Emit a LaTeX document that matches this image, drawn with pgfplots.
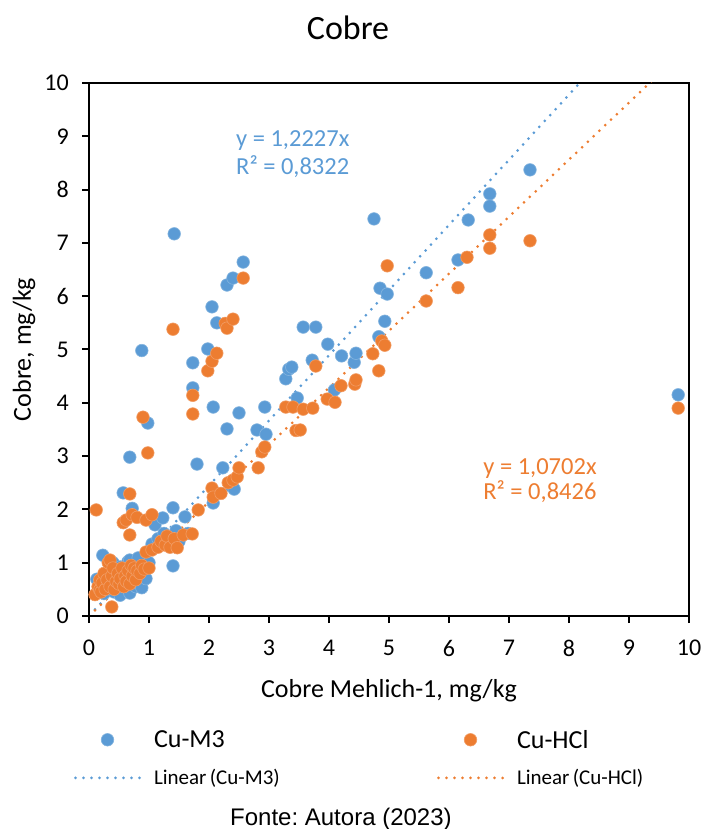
\documentclass[border=0pt]{standalone}
\usepackage{fontspec}
\setmainfont{Carlito}
\newfontfamily\arialf{Liberation Sans}
\usepackage{pgfplots}
\pgfplotsset{compat=1.18}
\definecolor{cublue}{HTML}{5B9BD5}
\definecolor{cuorange}{HTML}{ED7D31}
\pgfplotsset{
  mylegmark/.style={legend image code/.code={\draw[mark repeat=2,mark phase=2,##1] plot coordinates {(0pt,0pt)(32pt,0pt)(64pt,0pt)};}},
  mylegline/.style={legend image code/.code={\draw[##1] (0pt,0pt) -- (64pt,0pt);}},
}
\frenchspacing
\begin{document}
\begin{tikzpicture}
\useasboundingbox (-89pt,-213pt) rectangle (614pt,616pt);
\begin{axis}[
  at={(0pt,0pt)}, anchor=south west, scale only axis,
  width=600pt, height=533pt,
  xmin=0, xmax=10, ymin=0, ymax=10,
  xtick={0,1,...,10}, ytick={0,1,...,10},
  tick align=outside, tick pos=left,
  major tick length=7pt,
  every tick/.style={black, line width=2pt},
  axis line style={line width=2pt, black},
  /pgf/number format/assume math mode=true,
  tick label style={font=\fontsize{24}{28}\selectfont},
  xticklabel style={inner sep=0pt, anchor=north, yshift=-17pt},
  yticklabel style={inner sep=0pt, anchor=east, xshift=-13pt},
  xlabel={Cobre Mehlich-1, mg/kg},
  ylabel={Cobre, mg/kg},
  label style={font=\fontsize{26}{30}\selectfont, inner sep=0pt},
  x label style={at={(axis description cs:0.5,-0.152)}, anchor=base},
  y label style={at={(axis description cs:-0.0967,0.5)}, anchor=base},
  legend columns=2,
  legend cell align=left,
  legend style={at={(axis description cs:-0.025,-0.2139)}, anchor=north west,
    draw=none, fill=none, inner sep=0pt, outer sep=0pt,
    nodes={inner sep=0pt, text width=283pt, align=left},
    /tikz/every odd column/.append style={column sep=13pt},
    /tikz/every even column/.append style={column sep=0pt},
    row sep=20pt},
]
\addplot[only marks, mark=*, mark size=6.3pt,
  mark options={fill=cublue, draw=cublue!75!white, line width=0.6pt}, mylegmark]
coordinates {
(0.13,0.69)(0.23,1.14)(0.18,0.50)(0.25,0.42)(0.28,0.62)(0.30,0.80)(0.33,0.55)(0.35,0.95)(0.38,0.72)(0.40,1.00)
(0.42,0.45)(0.45,0.62)(0.48,0.85)(0.52,0.39)(0.52,0.92)(0.55,0.70)(0.58,0.55)(0.62,0.80)(0.65,1.02)(0.68,0.43)
(0.68,1.05)(0.70,0.65)(0.75,0.90)(0.78,0.55)(0.82,1.09)(0.85,0.75)(0.88,0.53)(0.92,0.95)(0.95,0.70)(1.00,1.00)
(1.05,1.35)(1.10,1.71)(1.15,1.45)(1.23,1.84)(1.25,1.55)(1.30,1.40)(1.35,1.30)(1.40,0.94)(1.40,2.03)(1.45,1.60)
(1.50,1.40)(1.60,1.86)(1.65,1.55)
(0.57,2.31)(0.68,2.98)(0.72,2.02)(0.88,4.98)(0.98,3.62)(1.42,7.17)(1.73,4.75)(1.73,4.28)(1.80,2.85)(1.98,5.01)
(2.05,5.80)(2.07,3.92)(2.07,2.12)(2.13,5.50)(2.15,2.30)(2.23,2.78)(2.30,3.51)(2.30,6.21)(2.35,2.45)(2.40,6.34)
(2.42,2.38)(2.50,3.81)(2.57,6.64)(2.80,3.49)(2.93,3.92)(2.95,3.41)(3.28,4.45)(3.33,4.63)(3.38,4.67)(3.47,4.09)
(3.57,5.42)(3.72,4.80)(3.78,5.42)(3.98,5.10)(4.09,4.24)(4.21,4.88)(4.42,4.76)(4.45,4.93)(4.75,7.45)(4.83,5.24)
(4.85,6.15)(4.93,5.53)(4.97,6.04)(5.62,6.44)(6.15,6.68)(6.32,7.43)(6.68,7.92)(6.68,7.69)(7.35,8.37)(9.82,4.15)
};
\addlegendentry{\fontsize{26}{30}\selectfont Cu-M3}
\addplot[only marks, mark=*, mark size=6.3pt,
  mark options={fill=cuorange, draw=cuorange!75!white, line width=0.6pt}, mylegmark]
coordinates {
(0.10,0.40)(0.12,1.99)(0.15,0.55)(0.18,0.68)(0.18,0.49)(0.20,0.45)(0.22,0.62)(0.25,0.80)(0.27,0.50)(0.30,0.68)
(0.32,1.00)(0.35,1.05)(0.35,0.55)(0.38,0.17)(0.38,0.75)(0.40,0.90)(0.42,0.50)(0.45,0.65)(0.48,0.80)(0.50,0.60)
(0.52,0.70)(0.55,0.90)(0.58,0.55)(0.60,0.75)(0.62,0.65)(0.65,0.85)(0.68,0.60)(0.70,0.95)(0.72,0.75)(0.75,0.90)
(0.78,0.68)(0.80,0.85)(0.85,0.80)(0.88,0.95)(0.92,0.88)(0.95,1.20)(1.00,0.90)
(0.57,1.75)(0.62,1.80)(0.68,1.52)(0.68,2.29)(0.72,1.90)(0.80,1.85)(0.90,3.73)(0.95,1.80)(0.98,3.06)(1.05,1.90)
(1.05,1.24)(1.15,1.29)(1.20,1.40)(1.27,1.33)(1.30,1.50)(1.35,1.29)(1.40,5.38)(1.42,1.45)(1.47,1.28)(1.57,1.52)
(1.72,1.54)(1.73,4.14)(1.73,3.79)(1.82,1.99)(1.98,4.60)(2.05,4.78)(2.05,2.40)(2.07,2.23)(2.13,4.93)(2.20,2.30)
(2.27,5.49)(2.30,5.40)(2.32,2.50)(2.40,5.57)(2.40,2.55)(2.47,2.61)(2.50,2.78)(2.57,6.34)(2.82,2.78)(2.88,3.08)
(2.93,3.17)(3.28,3.92)(3.40,3.92)(3.45,3.48)(3.52,3.49)(3.57,3.88)(3.73,3.90)(3.78,4.69)(3.97,4.07)(4.10,4.01)
(4.20,4.32)(4.43,4.35)(4.45,4.43)(4.73,4.92)(4.83,4.60)(4.88,5.16)(4.93,5.08)(4.97,6.57)(5.62,5.91)(6.15,6.16)
(6.30,6.73)(6.68,7.15)(6.68,6.90)(7.35,7.04)(9.82,3.90)
};
\addlegendentry{\fontsize{26}{30}\selectfont Cu-HCl}
\addplot[cublue, line width=3pt, line cap=round, dash pattern=on 0pt off 8pt, mylegline]
coordinates {(0.10,0.12227)(9.82,12.0069)};
\addlegendentry{\fontsize{21}{25}\selectfont Linear (Cu-M3)}
\addplot[cuorange, line width=3pt, line cap=round, dash pattern=on 0pt off 8pt, mylegline]
coordinates {(0.10,0.10702)(9.82,10.5094)};
\addlegendentry{\fontsize{21}{25}\selectfont Linear (Cu-HCl)}
\node[anchor=base west, inner sep=0pt, text=cublue, font=\fontsize{24.5}{28}\selectfont] at (axis cs:2.45,8.80) {y = 1,2227x};
\node[anchor=base west, inner sep=0pt, text=cublue, font=\fontsize{24.5}{28}\selectfont] at (axis cs:2.45,8.29) {R² = 0,8322};
\node[anchor=base west, inner sep=0pt, text=cuorange, font=\fontsize{24.5}{28}\selectfont] at (axis cs:6.57,2.66) {y = 1,0702x};
\node[anchor=base west, inner sep=0pt, text=cuorange, font=\fontsize{24.5}{28}\selectfont] at (axis cs:6.57,2.18) {R² = 0,8426};
\end{axis}
\node[anchor=base, inner sep=0pt, font=\fontsize{34}{40}\selectfont] at (259pt,576pt) {Cobre};
\node[anchor=base west, inner sep=0pt, font=\arialf\fontsize{24}{28}\selectfont] at (141pt,-209pt) {Fonte: Autora (2023)};
\end{tikzpicture}
\end{document}
